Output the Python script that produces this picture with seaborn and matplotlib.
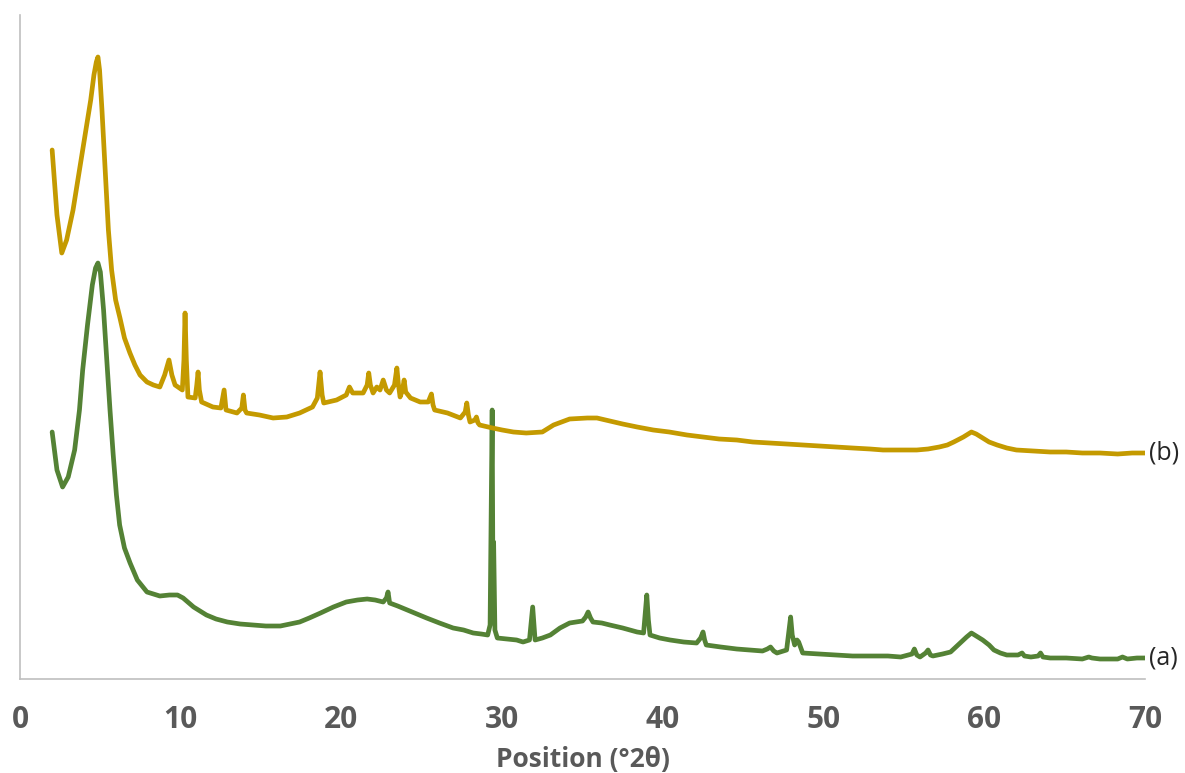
import matplotlib
matplotlib.use("Agg")
import matplotlib.pyplot as plt
import pandas as pd
import seaborn as sns

# XRD patterns: 2-theta positions (degrees) and intensities (arbitrary units)
two_theta_b = [2.0, 2.3, 2.6, 2.9, 3.3, 3.7, 4.1, 4.4, 4.6, 4.75, 4.85, 4.95, 5.1, 5.3, 5.5, 5.7,
               5.95, 6.22, 6.5, 6.84, 7.15, 7.47, 7.9, 8.3, 8.7, 9.0, 9.27, 9.45, 9.65, 10.1, 10.2,
               10.27, 10.35, 10.45, 10.9, 11.0, 11.08, 11.16, 11.3, 12.0, 12.5, 12.7, 12.82, 13.5,
               13.8, 13.9, 14.0, 14.1, 14.9, 15.75, 16.6, 17.4, 18.2, 18.5, 18.67, 18.8, 18.9, 19.7,
               20.3, 20.5, 20.7, 21.35, 21.6, 21.7, 21.8, 21.97, 22.2, 22.4, 22.6, 22.8, 23.0, 23.3,
               23.45, 23.55, 23.65, 23.8, 23.9, 24.0, 24.3, 24.9, 25.4, 25.6, 25.7, 25.8, 26.6, 27.4,
               27.7, 27.8, 27.9, 28.0, 28.3, 28.4, 28.5, 28.6, 29.4, 30.0, 30.7, 31.5, 32.5, 33.2,
               34.2, 35.3, 35.9, 36.7, 37.5, 38.4, 39.4, 40.4, 41.5, 42.5, 43.5, 44.6, 45.6, 46.7,
               47.7, 48.7, 49.8, 50.8, 51.8, 52.9, 53.7, 54.8, 55.8, 56.5, 57.2, 57.7, 58.1, 58.7,
               59.2, 59.5, 59.9, 60.3, 60.8, 61.4, 62.0, 63.0, 64.1, 65.1, 66.1, 67.2, 68.3, 69.2,
               70.0]
intensity_b = [529, 464, 426, 439, 469, 509, 549, 579, 604, 617, 622, 609, 569, 509, 449, 409,
               379, 361, 341, 326, 314, 304, 297, 294, 292, 304, 319, 304, 294, 289, 319,
               366, 319, 282, 281, 294, 307, 289, 277, 272, 271, 289, 269, 266,
               271, 284, 269, 266, 264, 261, 262, 266, 272, 281, 307, 284, 276, 279,
               284, 292, 286, 286, 294, 306, 294, 286, 292, 289, 299, 289, 286, 294,
               311, 294, 282, 289, 299, 287, 281, 277, 277, 285, 274, 269, 266, 261,
               267, 276, 264, 257, 259, 262, 256, 254, 251, 249, 247, 246, 247, 254,
               260, 261, 261, 258, 255, 252, 249, 247, 244, 242, 240, 239, 237, 236,
               235, 234, 233, 232, 231, 230, 229, 229, 229, 230, 232, 234, 237, 242,
               247, 245, 241, 237, 234, 231, 229, 228, 227, 227, 226, 226, 225, 226,
               226]

two_theta_a = [2.0, 2.3, 2.65, 3.0, 3.4, 3.7, 3.9, 4.2, 4.5, 4.7, 4.85, 5.0, 5.2, 5.4, 5.6, 5.8,
               6.0, 6.2, 6.5, 6.85, 7.3, 7.9, 8.7, 9.3, 9.8, 10.15, 10.8, 11.6, 12.2, 12.9, 13.7,
               14.5, 15.3, 16.2, 16.8, 17.4, 18.0, 18.7, 19.5, 20.3, 21.0, 21.6, 22.1, 22.6, 22.8,
               22.9, 23.0, 23.5, 24.1, 24.7, 25.3, 26.1, 26.95, 27.6, 28.2, 28.7, 29.1, 29.25,
               29.38, 29.42, 29.47, 29.55, 29.7, 30.3, 30.9, 31.3, 31.7, 31.9, 32.0, 32.05, 32.5,
               33.0, 33.6, 34.2, 35.0, 35.2, 35.35, 35.5, 35.65, 36.2, 36.7, 37.5, 38.4, 38.8,
               38.95, 39.0, 39.1, 39.2, 39.8, 40.45, 41.3, 42.1, 42.35, 42.5, 42.6, 42.7, 43.6,
               44.6, 45.4, 46.2, 46.5, 46.7, 46.9, 47.1, 47.7, 47.85, 47.95, 48.05, 48.2, 48.35,
               48.45, 48.7, 49.7, 50.8, 51.8, 52.9, 54.0, 54.8, 55.5, 55.65, 55.8, 56.0, 56.35,
               56.5, 56.65, 56.8, 57.4, 57.9, 58.5, 58.9, 59.2, 59.5, 59.9, 60.3, 60.6, 61.0,
               61.4, 62.1, 62.35, 62.5, 62.9, 63.35, 63.5, 63.65, 64.1, 65.1, 66.1, 66.5, 66.7,
               67.2, 68.3, 68.6, 68.9, 69.5, 70.0]
intensity_a = [247, 209, 192, 202, 229, 269, 309, 354, 394, 411, 416, 407, 369, 319, 269, 224,
               184, 154, 131, 116, 99, 87, 83, 84, 84, 81, 72, 64, 60, 57, 55,
               54, 53, 53, 55, 57, 61, 66, 72, 77, 79, 80, 79, 77, 81,
               87, 76, 73, 69, 65, 61, 56, 51, 49, 46, 45, 44, 54,
               269, 120, 137, 49, 41, 40, 39, 37, 39, 72, 49, 39, 41,
               44, 51, 56, 58, 62, 67, 61, 57, 56, 54, 51, 47, 46,
               74, 84, 59, 44, 41, 39, 37, 36, 41, 47, 39, 34, 32,
               30, 29, 28, 30, 32, 28, 26, 29, 49, 62, 44, 34, 39,
               37, 26, 25, 24, 23, 23, 23, 22, 25, 30, 24, 22, 26,
               29, 24, 23, 25, 27, 36, 42, 46, 43, 39, 34, 29, 26,
               24, 24, 26, 23, 22, 23, 26, 22, 21, 21, 20, 22, 21,
               20, 20, 22, 20, 21, 21]

sample_labels = ["(a)", "(b)"]
line_colors = ["#548235", "#C49A00"]

df = pd.concat([
    pd.DataFrame({"two_theta": two_theta_a, "intensity": intensity_a, "sample": sample_labels[0]}),
    pd.DataFrame({"two_theta": two_theta_b, "intensity": intensity_b, "sample": sample_labels[1]}),
], ignore_index=True)

sns.set_style("white")
plt.rcParams["font.family"] = ["Open Sans", "DejaVu Sans"]

fig = plt.figure(figsize=(11.85, 7.73), dpi=100)
ax = fig.add_axes([20 / 1185, 94 / 773, 1125 / 1185, 664 / 773])

sns.lineplot(data=df, x="two_theta", y="intensity", hue="sample",
             palette=dict(zip(sample_labels, line_colors)), estimator=None, sort=False,
             linewidth=3.4, legend=False, ax=ax)

ax.set_xlim(0, 70)
ax.set_ylim(0, 664)
ax.set_xticks(range(0, 71, 10))
ax.set_yticks([])
ax.tick_params(axis="x", length=0, pad=19, labelsize=21.5, labelcolor="#595959")
for lbl in ax.get_xticklabels():
    lbl.set_fontweight("bold")
ax.set_xlabel("Position (°2θ)", fontsize=19, fontweight="bold", color="#595959", labelpad=8)
ax.set_ylabel("")

for side in ["top", "right"]:
    ax.spines[side].set_visible(False)
for side in ["left", "bottom"]:
    ax.spines[side].set_color("#BFBFBF")
    ax.spines[side].set_linewidth(1.2)

ax.text(70.25, intensity_a[-1], sample_labels[0], fontsize=18, color="#262626",
        va="center", ha="left", clip_on=False)
ax.text(70.25, intensity_b[-1], sample_labels[1], fontsize=18, color="#262626",
        va="center", ha="left", clip_on=False)

fig.savefig("out.png", dpi=100)
